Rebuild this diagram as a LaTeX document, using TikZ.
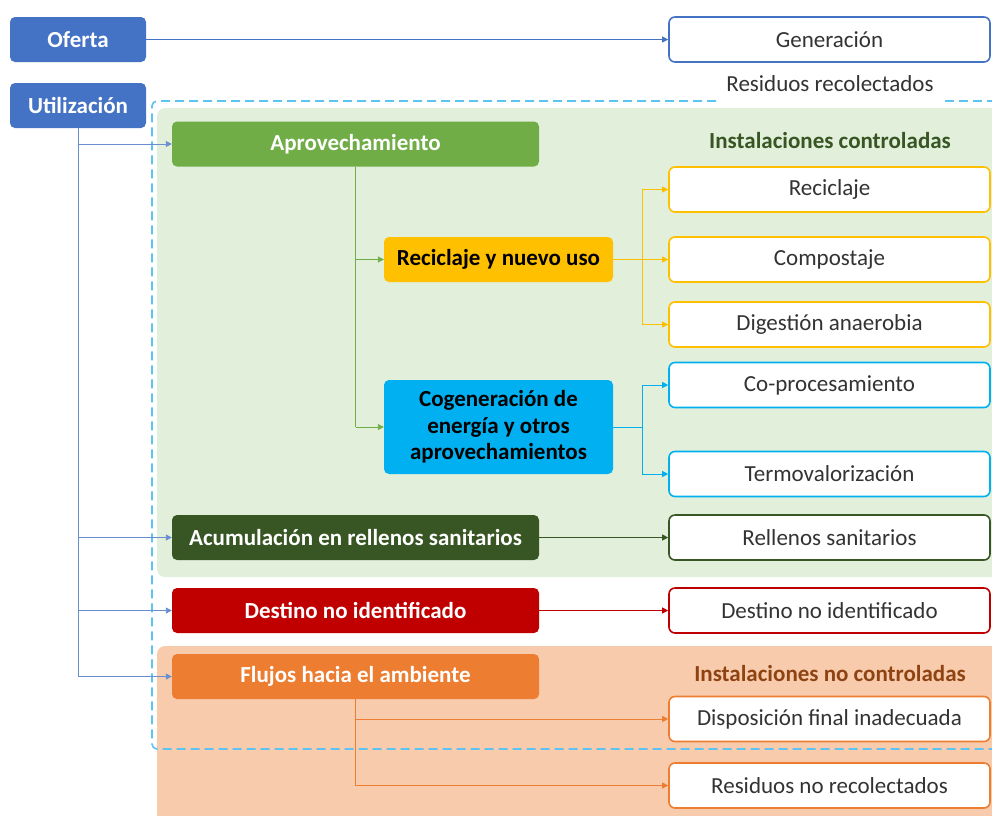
\documentclass[tikz,border=0pt]{standalone}
\usepackage{fontspec}
\setmainfont{Carlito}
\usetikzlibrary{arrows.meta}
\definecolor{cblue}{HTML}{4472C4}
\definecolor{cgreenbg}{HTML}{E2EFDA}
\definecolor{cgreen}{HTML}{70AD47}
\definecolor{cdgreen}{HTML}{375623}
\definecolor{cyellow}{HTML}{FFC000}
\definecolor{ccyan}{HTML}{00B0F0}
\definecolor{cred}{HTML}{C00000}
\definecolor{corange}{HTML}{ED7D31}
\definecolor{corangebg}{HTML}{F8CBAD}
\definecolor{cdash}{HTML}{5BC4F0}
\definecolor{cbrown}{HTML}{8E4412}
\definecolor{ctext}{HTML}{333333}
\tikzset{
  fnt/.style={font=\fontsize{23}{26.5}\selectfont},
  fntb/.style={font=\fontsize{23}{26.5}\selectfont\bfseries},
  solidbox/.style={fntb, rounded corners=5pt, inner sep=0pt, minimum height=45pt, text=white, align=center},
  leftbox/.style={solidbox, minimum width=367pt},
  midbox/.style={solidbox, minimum width=229pt, text=black},
  outbox/.style={fnt, draw, line width=1.6pt, fill=white, rounded corners=6pt, inner sep=0pt, minimum width=321pt, minimum height=45pt, text=ctext},
  conn/.style={line width=0.9pt},
  arr/.style={conn, -{Triangle[length=6pt,width=6pt]}},
}
\begin{document}
\begin{tikzpicture}[x=1pt,y=-1pt]
\useasboundingbox (0,0) rectangle (992,815);
% backgrounds
\fill[cgreenbg, rounded corners=8pt] (157,108) rectangle (1010,577);
\fill[corangebg, rounded corners=8pt] (157,646) rectangle (1010,830);
% dashed frame
\draw[cdash, line width=1.6pt, dash pattern=on 9pt off 5pt, rounded corners=5pt] (716,101) -- (152,101) -- (152,749) -- (992,749);
\draw[cdash, line width=1.6pt, dash pattern=on 9pt off 5pt] (945,101) -- (992,101);

% left column
\node[solidbox, fill=cblue, minimum width=136pt] (oferta) at (78,39.5) {Oferta};
\node[solidbox, fill=cblue, minimum width=136pt] (util) at (78,105.5) {Utilización};

% right column
\node[outbox, draw=cblue] (gen) at (829.5,39.5) {Generación};
\node[fnt, text=ctext] (resrec) at (830,84) {Residuos recolectados};
\node[fntb, text=cdgreen] (instc) at (830,141) {Instalaciones controladas};
\node[outbox, draw=cyellow] (recic) at (829.5,189.5) {Reciclaje};
\node[outbox, draw=cyellow] (compo) at (829.5,259.5) {Compostaje};
\node[outbox, draw=cyellow] (diges) at (829.5,324.5) {Digestión anaerobia};
\node[outbox, draw=ccyan] (copro) at (829.5,385) {Co-procesamiento};
\node[outbox, draw=ccyan] (termo) at (829.5,474) {Termovalorización};
\node[outbox, draw=cdgreen] (rell) at (829.5,537.5) {Rellenos sanitarios};
\node[outbox, draw=cred] (destr) at (829.5,610.5) {Destino no identificado};
\node[fntb, text=cbrown] (instnc) at (830,673) {Instalaciones no controladas};
\node[outbox, draw=corange] (disp) at (829.5,719) {Disposición final inadecuada};
\node[outbox, draw=corange] (resno) at (829.5,785.5) {Residuos no recolectados};

% middle boxes
\node[leftbox, fill=cgreen] (aprov) at (355.5,144) {Aprovechamiento};
\node[midbox, fill=cyellow] (recnu) at (498.5,259.5) {Reciclaje y nuevo uso};
\node[midbox, fill=ccyan, minimum height=94pt] (cogen) at (498.5,427) {Cogeneración de\\energía y otros\\aprovechamientos};
\node[leftbox, fill=cdgreen] (acum) at (355.5,537.5) {Acumulación en rellenos sanitarios};
\node[leftbox, fill=cred] (destl) at (355.5,610.5) {Destino no identificado};
\node[leftbox, fill=corange] (flujo) at (355.5,676.5) {Flujos hacia el ambiente};

% connectors
\draw[arr, cblue] (oferta) -- (gen);
\draw[conn, cblue!80] (util.south) -- (util.south |- flujo.west);
\draw[arr, cblue!80] (util.south |- aprov.west) -- (aprov.west);
\draw[arr, cblue!80] (util.south |- acum.west) -- (acum.west);
\draw[arr, cblue!80] (util.south |- destl.west) -- (destl.west);
\draw[arr, cblue!80] (util.south |- flujo.west) -- (flujo.west);

\draw[conn, cgreen] (aprov.south) -- (aprov.south |- cogen.west);
\draw[arr, cgreen] (aprov.south |- recnu.west) -- (recnu.west);
\draw[arr, cgreen] (aprov.south |- cogen.west) -- (cogen.west);

\coordinate (fx) at (642,0);
\draw[conn, cyellow] (recnu.east) -- (fx |- recnu.east);
\draw[conn, cyellow] (fx |- recic.west) -- (fx |- diges.west);
\draw[arr, cyellow] (fx |- recic.west) -- (recic.west);
\draw[arr, cyellow] (fx |- compo.west) -- (compo.west);
\draw[arr, cyellow] (fx |- diges.west) -- (diges.west);

\draw[conn, ccyan] (cogen.east) -- (fx |- cogen.east);
\draw[conn, ccyan] (fx |- copro.west) -- (fx |- termo.west);
\draw[arr, ccyan] (fx |- copro.west) -- (copro.west);
\draw[arr, ccyan] (fx |- termo.west) -- (termo.west);

\draw[arr, cdgreen] (acum) -- (rell);
\draw[arr, cred] (destl) -- (destr);

\draw[conn, corange] (flujo.south) -- (flujo.south |- resno.west);
\draw[arr, corange] (flujo.south |- disp.west) -- (disp.west);
\draw[arr, corange] (flujo.south |- resno.west) -- (resno.west);
\end{tikzpicture}
\end{document}
